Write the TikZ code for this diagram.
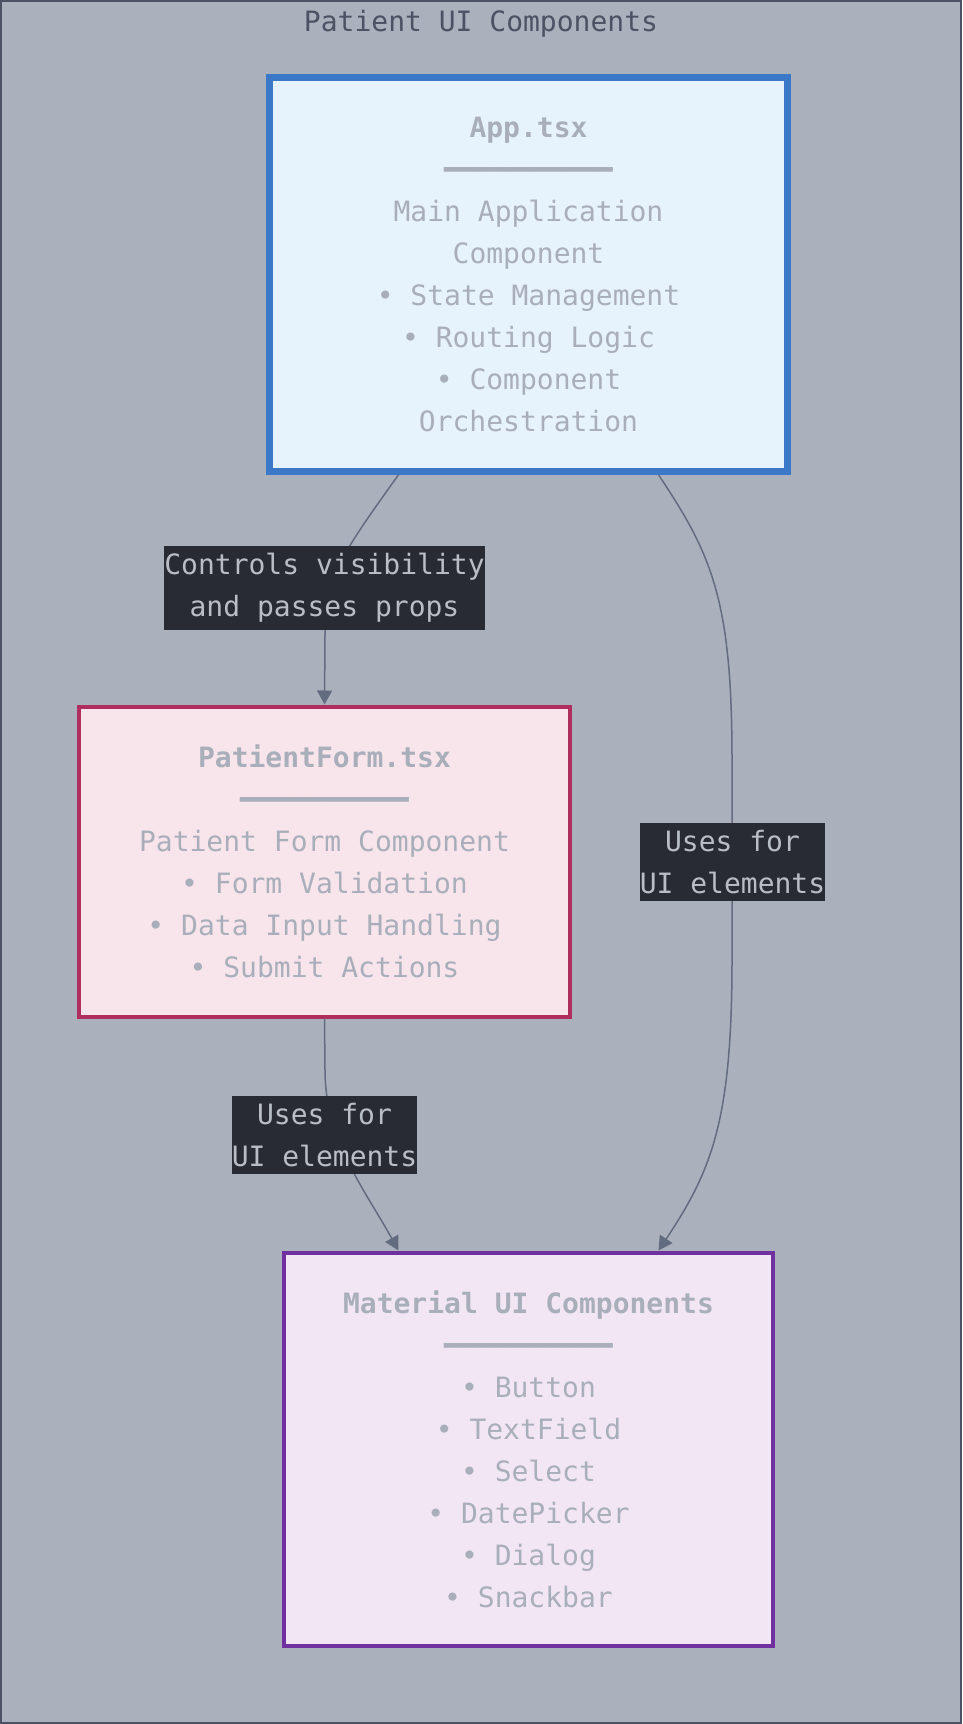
\documentclass[tikz,border=0pt]{standalone}
\usepackage{fontspec}
\setmonofont{DejaVu Sans Mono}
\usetikzlibrary{arrows.meta,positioning}
\definecolor{bgc}{HTML}{ABB1BC}
\definecolor{framec}{HTML}{4B5263}
\definecolor{nodetext}{HTML}{A9AFBA}
\definecolor{appc}{HTML}{3B78C8}
\definecolor{appbg}{HTML}{E6F3FC}
\definecolor{formc}{HTML}{B02E5E}
\definecolor{formbg}{HTML}{F8E4EB}
\definecolor{matc}{HTML}{7030A0}
\definecolor{matbg}{HTML}{F2E6F5}
\definecolor{edgec}{HTML}{636B80}
\definecolor{lblbg}{HTML}{282B33}
\definecolor{lbltext}{HTML}{B9BDC6}

\begin{document}
\begin{tikzpicture}[x=1bp,y=-1bp,
		every node/.style={font=\ttfamily\fontsize{28bp}{42bp}\selectfont, align=center},
		box/.style={draw, line width=4bp, text=nodetext, inner sep=0pt},
		edge/.style={draw=edgec, line width=1.5bp, -{Triangle[length=14bp,width=15bp]}},
		lbl/.style={fill=lblbg, text=lbltext, inner xsep=0pt, inner ysep=7.5bp}]
			\useasboundingbox (0,0) rectangle (962,1724);
			\draw[fill=bgc, draw=framec, line width=2bp] (1,1) rectangle (961,1723);
			\node[text=framec] (title) at (481,24) {Patient UI Components};

			\node[box, draw=appc, fill=appbg, line width=6.5bp, minimum width=518bp, minimum height=394bp] (app) at (528.5,274.5)
				{\bfseries App.tsx\\━━━━━━━━━━\\Main Application\\Component\\• State Management\\• Routing Logic\\• Component\\Orchestration};
			\node[box, draw=formc, fill=formbg, minimum width=491bp, minimum height=310bp] (form) at (324.5,861.5)
				{\bfseries PatientForm.tsx\\━━━━━━━━━━\\Patient Form Component\\• Form Validation\\• Data Input Handling\\• Submit Actions};
			\node[box, draw=matc, fill=matbg, minimum width=489bp, minimum height=393bp] (mat) at (528.5,1449)
				{\bfseries Material UI Components\\━━━━━━━━━━\\• Button\\• TextField\\• Select\\• DatePicker\\• Dialog\\• Snackbar};

			\draw[edge] ([xshift=-130bp]app.south) .. controls (345,550) and (325,575) .. (325,635) -- (form.north);
			\draw[edge] ([xshift=130bp]app.south) .. controls (712,555) and (732,600) .. (732,760) -- (732,960) .. controls (732,1120) and (712,1170) .. ([xshift=130bp]mat.north);
			\draw[edge] (form.south) -- (325,1070) .. controls (325,1140) and (365,1190) .. ([xshift=-130bp]mat.north);

			\node[lbl] (ctrl) at (324.5,588) {Controls visibility\\and passes props};
			\node[lbl] (uses1) at (732.5,862) {Uses for\\UI elements};
			\node[lbl] (uses2) at (324.5,1135) {Uses for\\UI elements};
		\end{tikzpicture}
\end{document}
